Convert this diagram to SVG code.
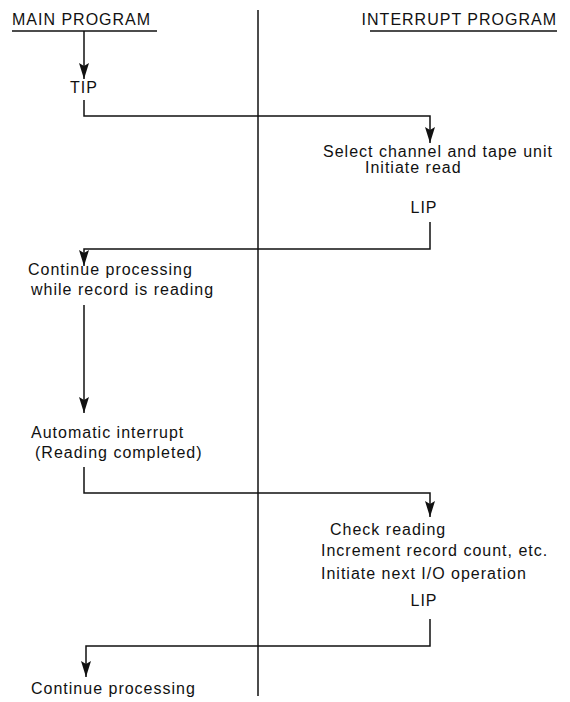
<svg xmlns="http://www.w3.org/2000/svg" width="570" height="702" viewBox="0 0 570 702">
<defs>
<style>
text{font-family:"Liberation Sans",Arial,sans-serif;font-size:16px;fill:#111;letter-spacing:1px}
.ln{stroke:#111;stroke-width:1.5;fill:none}
.hd{stroke:#111;stroke-width:1.5}
</style>
<marker id="ah" markerUnits="userSpaceOnUse" markerWidth="17" markerHeight="12" viewBox="0 0 17 12" refX="16" refY="6" orient="auto">
<path d="M0,1 L16,6 L0,11 L3,6 Z" fill="#111"/>
</marker>
</defs>
<rect width="570" height="702" fill="#fff"/>
<g id="headers">
<g id="main-header"><text x="12" y="25">MAIN PROGRAM</text><line class="hd" x1="12" y1="31" x2="157" y2="31"/></g>
<g id="interrupt-header"><text x="557" y="25" text-anchor="end">INTERRUPT PROGRAM</text><line class="hd" x1="370" y1="31" x2="557" y2="31"/></g>
</g>
<g id="divider"><line class="ln" x1="258" y1="10" x2="258" y2="696"/></g>
<g id="tip"><text x="84" y="93" text-anchor="middle">TIP</text></g>
<g id="select"><text x="323" y="157">Select channel and tape unit</text><text x="365" y="173">Initiate read</text></g>
<g id="lip1"><text x="424" y="213" text-anchor="middle">LIP</text></g>
<g id="continue1"><text x="28" y="275">Continue processing</text><text x="31" y="295">while record is reading</text></g>
<g id="auto"><text x="31" y="438">Automatic interrupt</text><text x="35" y="458">(Reading completed)</text></g>
<g id="check"><text x="330" y="535">Check reading</text><text x="321" y="556">Increment record count, etc.</text><text x="321" y="579">Initiate next I/O operation</text></g>
<g id="lip2"><text x="424" y="606" text-anchor="middle">LIP</text></g>
<g id="continue2"><text x="31" y="694">Continue processing</text></g>
<g id="connectors">
<line class="ln" x1="84" y1="31" x2="84" y2="79" marker-end="url(#ah)"/>
<polyline class="ln" points="84,100 84,116 430,116 430,143" marker-end="url(#ah)"/>
<polyline class="ln" points="430,222 430,249 84,249 84,266" marker-end="url(#ah)"/>
<line class="ln" x1="84" y1="305" x2="84" y2="413" marker-end="url(#ah)"/>
<polyline class="ln" points="84,467 84,493 430,493 430,517" marker-end="url(#ah)"/>
<polyline class="ln" points="430,619 430,646 86,646 86,677" marker-end="url(#ah)"/>
</g>
</svg>
